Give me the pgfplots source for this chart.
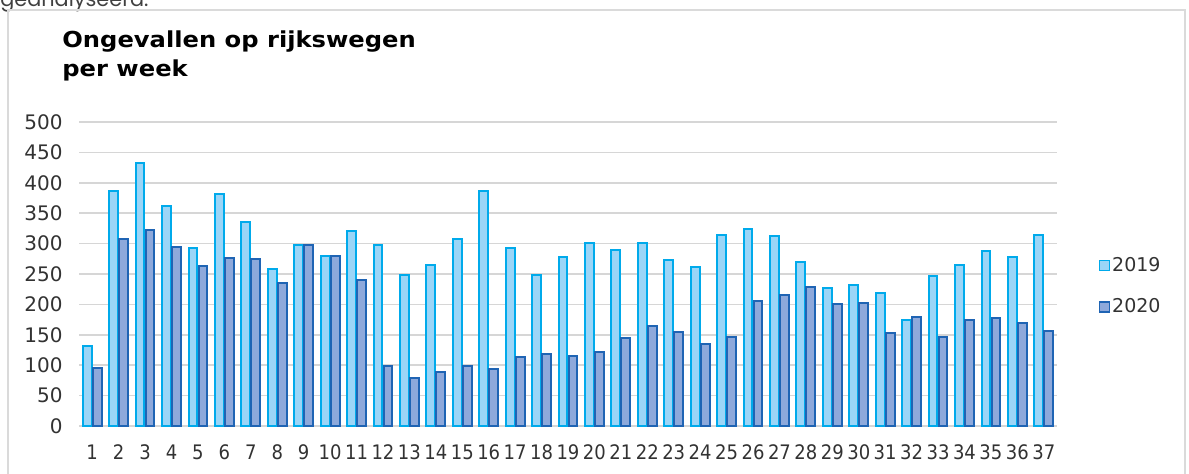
\documentclass[border=0pt]{standalone}
\usepackage{fontspec}
\setmainfont{DejaVu Sans}
\newfontfamily\condfont{DejaVu Sans Condensed}
\newfontfamily\titlefont{DejaVu Sans}[FakeStretch=1.1]
\newfontfamily\topfont{Poppins}
\usepackage{pgfplots}
\pgfplotsset{compat=1.18}
\definecolor{fillA}{RGB}{155,213,247}
\definecolor{edgeA}{RGB}{0,170,235}
\definecolor{fillB}{RGB}{142,169,219}
\definecolor{edgeB}{RGB}{31,100,180}
\definecolor{gridc}{RGB}{214,214,214}
\definecolor{framec}{RGB}{218,218,218}
\definecolor{txt}{RGB}{50,50,50}
\pgfplotsset{ybar legend/.style={legend image code/.code={\draw[##1,/tikz/.cd,line width=0.8pt] (0pt,-2.5pt) rectangle (5pt,2.5pt);}}}
\begin{document}
\begin{tikzpicture}
\useasboundingbox (0,0) rectangle (594.5pt,236.5pt);
\clip (0,0) rectangle (594.5pt,236.5pt);
\node[anchor=base west,inner sep=0pt,text=black!75,font=\topfont\fontsize{10.4}{12}\selectfont] at (0pt,233.5pt) {geanalyseerd.};
\draw[framec,line width=1pt] (4pt,-5pt) -- (4pt,231.5pt) -- (592.5pt,231.5pt) -- (592.5pt,-5pt);
\node[anchor=base west,inner sep=0pt,font=\titlefont\bfseries\fontsize{11}{14}\selectfont] at (31pt,213pt) {Ongevallen op rijkswegen};
\node[anchor=base west,inner sep=0pt,font=\titlefont\bfseries\fontsize{11}{14}\selectfont] at (31pt,198.5pt) {per week};
\begin{axis}[
  at={(39.5pt,23.5pt)}, anchor=south west,
  scale only axis, width=489pt, height=152pt,
  ybar=0.6pt, bar width=4.4pt,
  xmin=0.5, xmax=37.5, ymin=0, ymax=500,
  xtick={1,...,37}, ytick={0,50,...,500},
  ymajorgrids, grid style={gridc,line width=0.8pt},
  axis line style={draw=none}, tick style={draw=none},
  /pgf/number format/assume math mode=true,
  tick label style={text=txt},
  yticklabel style={font=\fontsize{10}{12}\selectfont,anchor=east,inner sep=0pt,xshift=-8pt},
  xticklabel style={font=\condfont\fontsize{10}{12}\selectfont,anchor=north,inner sep=0pt,yshift=-5pt},
  legend style={at={(1.036,0.46)},anchor=west,draw=none,fill=none,
    font=\fontsize{9.5}{11}\selectfont,text=txt,row sep=10pt,
    nodes={inner sep=1pt}},
  legend cell align=left,
]
\addplot[fill=fillA,draw=edgeA,line width=1pt] coordinates {
(1,132) (2,387) (3,433) (4,362) (5,292) (6,381) (7,335) (8,259) (9,298) (10,280)
(11,320) (12,298) (13,248) (14,265) (15,308) (16,387) (17,292) (18,248) (19,278) (20,301)
(21,290) (22,301) (23,273) (24,261) (25,314) (26,324) (27,312) (28,269) (29,227) (30,232)
(31,218) (32,174) (33,246) (34,265) (35,288) (36,278) (37,314)};
\addplot[fill=fillB,draw=edgeB,line width=1pt] coordinates {
(1,96) (2,307) (3,322) (4,294) (5,263) (6,277) (7,275) (8,235) (9,298) (10,280)
(11,240) (12,98) (13,79) (14,89) (15,98) (16,94) (17,113) (18,119) (19,115) (20,122)
(21,144) (22,165) (23,155) (24,135) (25,146) (26,205) (27,216) (28,228) (29,201) (30,203)
(31,153) (32,180) (33,146) (34,174) (35,178) (36,170) (37,157)};
\legend{2019,2020}
\end{axis}
\end{tikzpicture}
\end{document}
